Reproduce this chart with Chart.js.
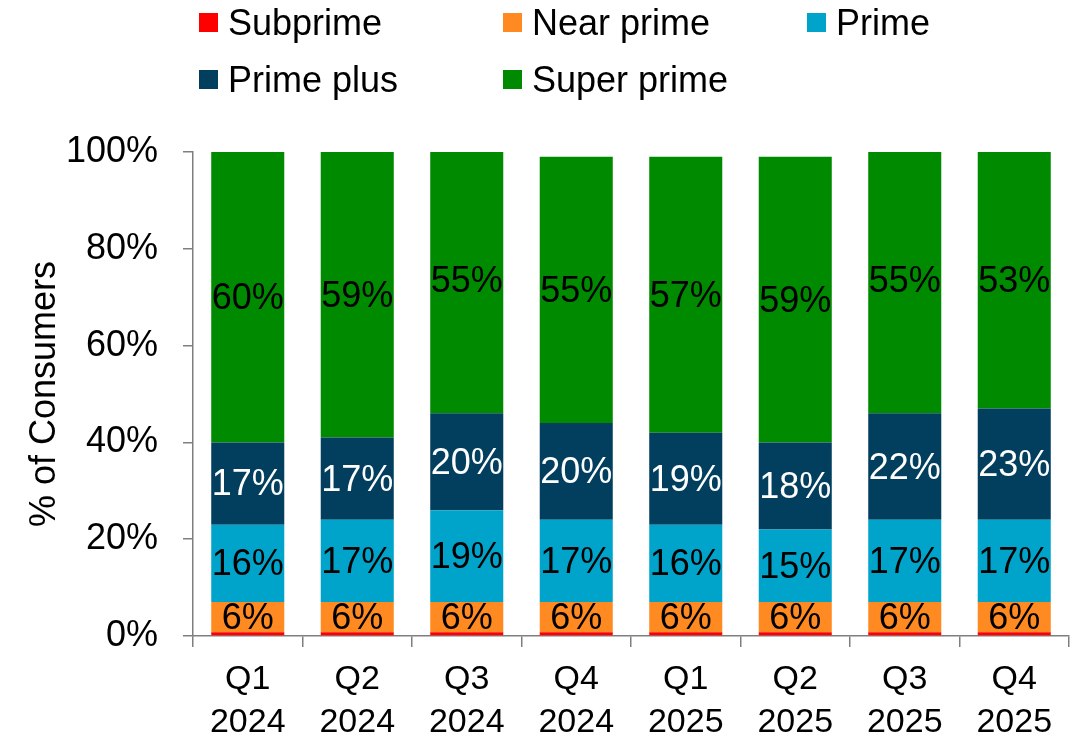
<!DOCTYPE html>
<html>
<head>
<meta charset="utf-8">
<script src="https://cdn.jsdelivr.net/npm/chart.js@4/dist/chart.umd.min.js"></script>
<style>
  html, body { margin: 0; padding: 0; background: #fff; }
  #wrap { position: relative; width: 1082px; height: 743px; }
  canvas { position: absolute; left: 0; top: 0; }
  .lg { position: absolute; font-family: "Liberation Sans", Arial, sans-serif; font-size: 36px; color: #000; line-height: 1; white-space: nowrap; display: flex; align-items: center; }
  .lg span.sw { display: inline-block; width: 19px; height: 19px; margin-right: 10px; }
</style>
</head>
<body>
<div id="wrap">
  <canvas id="c" width="1082" height="743"></canvas>
  <div id="legend"></div>
</div>
<script>
const categories = [["Q1","2024"],["Q2","2024"],["Q3","2024"],["Q4","2024"],["Q1","2025"],["Q2","2025"],["Q3","2025"],["Q4","2025"]];
const seriesNames = ["Subprime","Near prime","Prime","Prime plus","Super prime"];
const subprime   = [0.8,0.8,0.8,0.8,0.8,0.8,0.8,0.8];
const nearPrime  = [6.2,6.2,6.2,6.2,6.2,6.2,6.2,6.2];
const prime      = [16,17,19,17,16,15,17,17];
const primePlus  = [17,17,20,20,19,18,22,23];
const superPrime = [60,59,55,55,57,59,55,53];
const yTicks = [0,20,40,60,80,100];
const colors = ["#FF0000","#FF8A21","#00A4CA","#023F5E","#008A00"];
const labelColors = [null,"#000000","#000000","#FFFFFF","#000000"];

const FONT = '"Liberation Sans", Arial, sans-serif';
const allSeries = [subprime, nearPrime, prime, primePlus, superPrime];

// HTML legend
const legendPos = [[199,22.5],[503,22.5],[807,22.5],[199,79.5],[503,79.5]];
const lg = document.getElementById('legend');
seriesNames.forEach((n,i)=>{
  const d = document.createElement('div');
  d.className = 'lg';
  d.style.left = legendPos[i][0] + 'px';
  d.style.top = (legendPos[i][1] - 18) + 'px';
  d.style.height = '36px';
  d.innerHTML = '<span class="sw" style="background:'+colors[i]+'"></span>' + n;
  lg.appendChild(d);
});

const labelPlugin = {
  id: 'segLabels',
  afterDatasetsDraw(chart) {
    const ctx = chart.ctx;
    ctx.save();
    ctx.font = '36px ' + FONT;
    ctx.textAlign = 'center';
    ctx.textBaseline = 'middle';
    chart.data.datasets.forEach((ds, di) => {
      if (!labelColors[di]) return;
      const meta = chart.getDatasetMeta(di);
      meta.data.forEach((el, i) => {
        const {x, y, base} = el.getProps(['x','y','base'], true);
        ctx.fillStyle = labelColors[di];
        ctx.fillText(Math.round(ds.data[i]) + '%', x, (y + base) / 2 + 2);
      });
    });
    ctx.restore();
  }
};

new Chart(document.getElementById('c'), {
  type: 'bar',
  data: {
    labels: categories,
    datasets: seriesNames.map((n,i)=>({
      label: n,
      data: allSeries[i],
      backgroundColor: colors[i],
      borderWidth: 0,
      barPercentage: 0.667,
      categoryPercentage: 1.0
    }))
  },
  options: {
    responsive: false,
    animation: false,
    events: [],
    layout: { padding: { top: 152, right: 13, left: 0, bottom: 0 } },
    plugins: { legend: { display: false }, tooltip: { enabled: false } },
    scales: {
      x: {
        stacked: true,
        grid: { offset: true, drawOnChartArea: false, drawTicks: true, tickLength: 11, color: '#7F7F7F', lineWidth: 1.5 },
        border: { display: true, color: '#7F7F7F', width: 1.5 },
        ticks: { color: '#000', font: { family: FONT, size: 34, lineHeight: 1.27 }, padding: 11, maxRotation: 0, autoSkip: false },
        afterFit(s) { s.height = 107; }
      },
      y: {
        stacked: true,
        min: 0, max: 100,
        afterBuildTicks(s) { s.ticks = yTicks.map(v=>({value:v})); },
        grid: { drawOnChartArea: false, drawTicks: true, tickLength: 10, color: '#7F7F7F', lineWidth: 1.5 },
        border: { display: true, color: '#7F7F7F', width: 1.5 },
        ticks: { color: '#000', font: { family: FONT, size: 36 }, padding: 25, callback: v => v + '%' },
        title: { display: true, text: '% of Consumers', color: '#000', font: { family: FONT, size: 36, lineHeight: 1 }, padding: { top: 27, bottom: 0 } },
        afterFit(s) { s.width = 193; }
      }
    }
  },
  plugins: [labelPlugin]
});
</script>
</body>
</html>
